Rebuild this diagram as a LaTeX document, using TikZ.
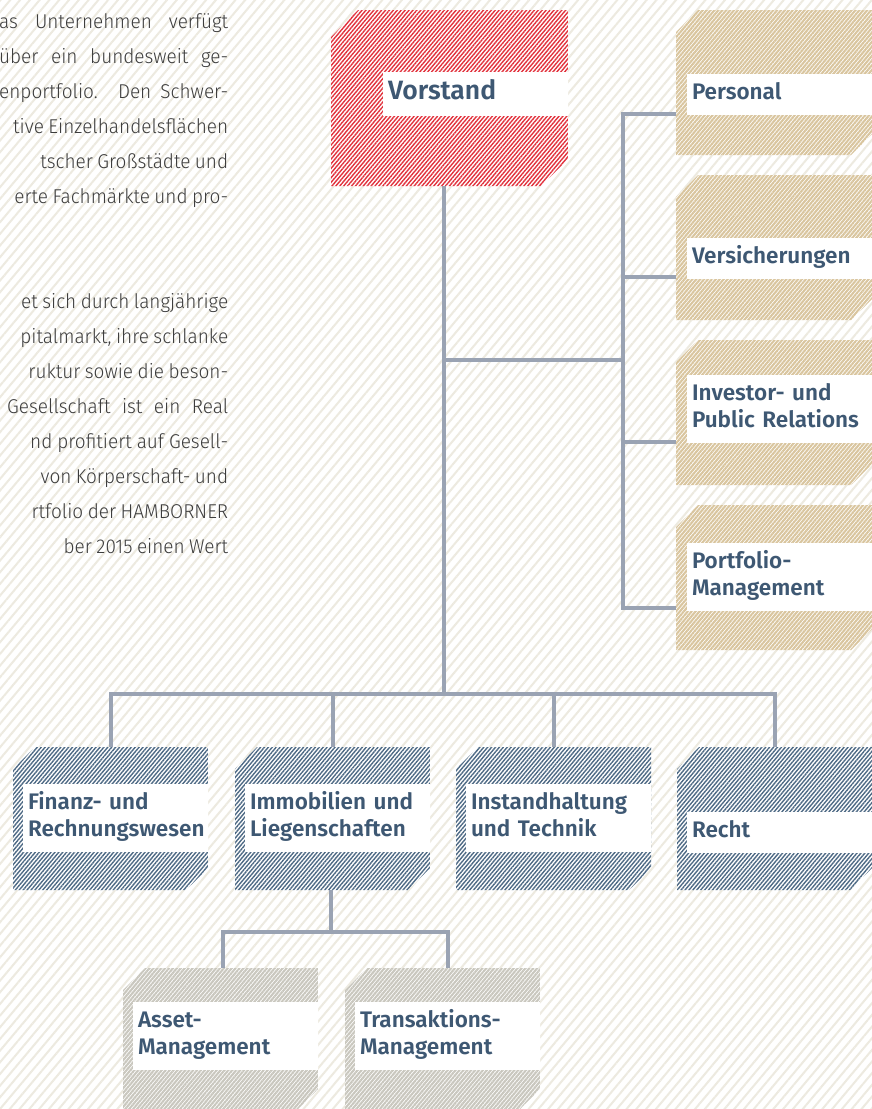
\documentclass[tikz,border=0pt]{standalone}
\usepackage{fontspec}
\setmainfont{Fira Sans}
\IfFontExistsTF{Fira Sans SemiBold}{\newfontfamily\lblfont{Fira Sans SemiBold}}{\newcommand\lblfont{\bfseries}}
\IfFontExistsTF{Fira Sans Light}{\newfontfamily\bodyfont{Fira Sans Light}[FakeStretch=0.95,WordSpace=0.85]}{\newfontfamily\bodyfont{Fira Sans}[FakeStretch=0.95,WordSpace=0.85]}
\usetikzlibrary{patterns.meta,calc}

\definecolor{bgline}{HTML}{EDEAE0}
\definecolor{vred}{HTML}{E2323D}
\definecolor{tan}{HTML}{D9C59E}
\definecolor{slate}{HTML}{4E6A85}
\definecolor{stone}{HTML}{C9C7BE}
\definecolor{connc}{HTML}{9AA3B3}
\definecolor{lbltext}{HTML}{3E5873}
\definecolor{bodyc}{HTML}{3C3C3C}

% one justified line of the cut text column
\newsavebox\jlinebox
\newcommand\jline[2]{\sbox\jlinebox{#2}%
  \ifdim\wd\jlinebox>#1\relax\hbox to #1{\hss\usebox\jlinebox}%
  \else\makebox[#1][s]{#2}\fi}

\tikzset{
  boxcut/.store in=\boxcut, boxcut=22pt,
  conn/.style={draw=connc, line width=4pt},
  orgbox/.style 2 args={minimum width=195pt, minimum height=143pt, inner sep=0pt,
    path picture={
      \path[preaction={fill=white}, pattern={Lines[angle=50,distance=3pt,line width=#2]}, pattern color=#1]
        ([yshift=-\boxcut]path picture bounding box.north west)
        -- ([xshift=\boxcut]path picture bounding box.north west)
        -- (path picture bounding box.north east)
        -- ([yshift=\boxcut]path picture bounding box.south east)
        -- ([xshift=-\boxcut]path picture bounding box.south east)
        -- (path picture bounding box.south west) -- cycle;
    }},
  tag/.style={fill=white, anchor=south west, text width=175pt, align=left,
    inner xsep=5pt, inner ysep=7pt, text=lbltext,
    font=\lblfont\fontsize{22.5}{27}\selectfont,
    execute at begin node=\strut, execute at end node=\strut},
  bodyline/.style={anchor=base west, inner sep=0pt, text=bodyc,
    font=\bodyfont\fontsize{20}{22}\selectfont},
}

\begin{document}
\begin{tikzpicture}[x=1pt, y=-1pt]
  \useasboundingbox (0,0) rectangle (872,1109);
  \clip (0,0) rectangle (872,1109);
  \fill[white] (0,0) rectangle (872,1109);
  \fill[pattern={Lines[angle=50,distance=7.5pt,line width=2pt]}, pattern color=bgline] (0,0) rectangle (872,1109);

  % text column on the left
  \foreach \x/\y/\t [count=\i] in {
      -1/28/{as Unternehmen verfügt},
      -1/63/{über ein bundesweit ge-},
      -1/98/{enportfolio. Den Schwer-},
      38/133/{tive Einzelhandelsflächen},
      75/168/{tscher Großstädte und},
      35/203/{erte Fachmärkte und pro-},
      22/308/{et sich durch langjährige},
      28/343/{pitalmarkt, ihre schlanke},
      33/378/{ruktur sowie die beson-},
      7/413/{Gesellschaft ist ein Real},
      30/448/{nd profitiert auf Gesell-},
      45/483/{von Körperschaft- und},
      90/518/{rtfolio der HAMBORNER},
      110/553/{ber 2015 einen Wert}}
    \node[bodyline] (txt\i) at (\x,\y) {\jline{\dimexpr228pt-\x pt\relax}{\t}};

  % boxes
  \node[orgbox={vred}{1.4pt}, minimum width=237pt, minimum height=176pt, boxcut=27pt] (V) at (449.5,98) {};
  \node[orgbox={tan}{2.1pt}, minimum width=197pt, minimum height=145pt] (Per) at (774.5,82.5) {};
  \node[orgbox={tan}{2.1pt}, minimum width=197pt, minimum height=145pt] (Ver) at (774.5,247.5) {};
  \node[orgbox={tan}{2.1pt}, minimum width=197pt, minimum height=145pt] (IR) at (774.5,412.5) {};
  \node[orgbox={tan}{2.1pt}, minimum width=197pt, minimum height=145pt] (PM) at (774.5,577.5) {};
  \node[orgbox={slate}{1.4pt}] (FR) at (110.5,818.5) {};
  \node[orgbox={slate}{1.4pt}] (IL) at (332.5,818.5) {};
  \node[orgbox={slate}{1.4pt}] (IT) at (553.5,818.5) {};
  \node[orgbox={slate}{1.4pt}] (Re) at (774.5,818.5) {};
  \node[orgbox={stone}{2.1pt}] (AM) at (220.5,1039.5) {};
  \node[orgbox={stone}{2.1pt}] (TM) at (442.5,1039.5) {};

  % connectors
  \coordinate (hub) at (444,360);
  \coordinate (spine) at (623,360);
  \coordinate (trunk) at (444,694);
  \coordinate (sub) at (331,932);
  \coordinate (bPer) at ($(Per.north west)+(0,104)$);
  \coordinate (bVer) at ($(Ver.north west)+(0,102)$);
  \coordinate (bIR) at ($(IR.north west)+(0,102)$);
  \coordinate (bPM) at ($(PM.north west)+(0,103)$);
  \draw[conn] (V.south -| trunk) -- (trunk);
  \draw[conn] (hub) -- (spine);
  \draw[conn] (bPer) -| (spine |- bPM) -- (bPM);
  \draw[conn] (spine |- bVer) -- (bVer);
  \draw[conn] (spine |- bIR) -- (bIR);
  \draw[conn] (FR.north) |- (Re.north |- trunk) -- (Re.north);
  \draw[conn] (IL.north) -- (IL.north |- trunk);
  \draw[conn] (IT.north) -- (IT.north |- trunk);
  \draw[conn] (IL.south -| sub) -- (sub);
  \draw[conn] ([xshift=2.5pt]AM.north) |- ([xshift=5.5pt]TM.north |- sub) -- ([xshift=5.5pt]TM.north);

  % labels
  \node[tag, font=\lblfont\fontsize{26.5}{30}\selectfont] (tV) at ($(V.north west)+(52,106)$) {Vorstand};
  \node[tag] (tPer) at ($(Per.north west)+(11,105)$) {Personal};
  \node[tag] (tVer) at ($(Ver.north west)+(11,104)$) {Versicherungen};
  \node[tag] (tIR) at ($(IR.north west)+(11,103)$) {Investor- und\\Public Relations};
  \node[tag] (tPM) at ($(PM.north west)+(11,106)$) {Portfolio-\\Management};
  \node[tag] (tFR) at ($(FR.north west)+(10,105)$) {Finanz- und\\Rechnungswesen};
  \node[tag] (tIL) at ($(IL.north west)+(10,105)$) {Immobilien und\\Liegenschaften};
  \node[tag] (tIT) at ($(IT.north west)+(10,105)$) {Instandhaltung\\und Technik};
  \node[tag] (tRe) at ($(Re.north west)+(10,106)$) {Recht};
  \node[tag] (tAM) at ($(AM.north west)+(10,102)$) {Asset-\\Management};
  \node[tag] (tTM) at ($(TM.north west)+(10,102)$) {Transaktions-\\Management};
\end{tikzpicture}
\end{document}
